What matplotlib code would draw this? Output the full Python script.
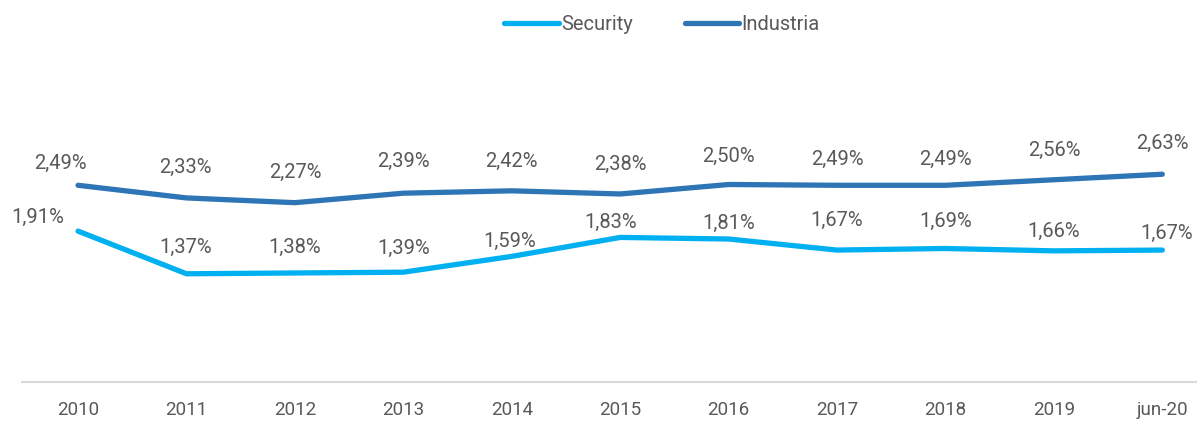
import matplotlib
matplotlib.use('Agg')
import matplotlib.pyplot as plt

plt.rcParams['font.family'] = ['Roboto', 'DejaVu Sans']

years = ['2010', '2011', '2012', '2013', '2014', '2015', '2016', '2017', '2018', '2019', 'jun-20']
security = [1.91, 1.37, 1.38, 1.39, 1.59, 1.83, 1.81, 1.67, 1.69, 1.66, 1.67]
industria = [2.49, 2.33, 2.27, 2.39, 2.42, 2.38, 2.50, 2.49, 2.49, 2.56, 2.63]

c_sec = '#00B0F0'
c_ind = '#2E75B6'
txt = '#595959'

# label offsets (pixels) above each point, as placed in the original
ind_dy = [22, 31, 30, 32, 29, 30, 28, 26, 26, 29, 31]
ind_dx = [-18, -1, 0, 0, 0, 0, 0, 0, 0, 0, 0]
sec_dy = [14, 26, 26, 24, 15, 15, 16, 30, 27, 19, 17]
sec_dx = [-40, -1, 0, 0, -2, -10, 0, 0, 0, 0, 4]

fig = plt.figure(figsize=(11.97, 4.23), dpi=100)
# axes: x from 22 to 1197 px, bottom at 382 px, top at 66 px
ax = fig.add_axes([22/1197, 1 - 382/423, 1 - 22/1197, (382 - 66)/423])

x = list(range(len(years)))
ax.plot(x, security, color=c_sec, lw=3.8, solid_capstyle='round', label='Security')
ax.plot(x, industria, color=c_ind, lw=3.8, solid_capstyle='round', label='Industria')

def fmt(v):
    return ('%.2f%%' % v).replace('.', ',')

for i, v in enumerate(industria):
    ax.annotate(fmt(v), (i, v), xytext=(ind_dx[i], ind_dy[i]), textcoords='offset pixels',
                ha='center', va='center', fontsize=14.5, color=txt)
for i, v in enumerate(security):
    ax.annotate(fmt(v), (i, v), xytext=(sec_dx[i], sec_dy[i]), textcoords='offset pixels',
                ha='center', va='center', fontsize=14.5, color=txt)

ax.set_xlim(-0.517, 10.32)
ax.set_ylim(0, 4)
ax.set_xticks(x)
ax.set_xticklabels(years, fontsize=13.5, color=txt)
ax.set_yticks([])
for s in ['top', 'right', 'left']:
    ax.spines[s].set_visible(False)
ax.spines['bottom'].set_color('#D9D9D9')
ax.spines['bottom'].set_linewidth(1.5)
ax.tick_params(axis='x', length=0, pad=14)

fig.legend(loc='center', bbox_to_anchor=(662/1197, 1 - 25/423), ncol=2, frameon=False,
           fontsize=14.5, labelcolor=txt, handlelength=2.7, handletextpad=0.1,
           columnspacing=2.6)

plt.savefig('out.png', dpi=100)
